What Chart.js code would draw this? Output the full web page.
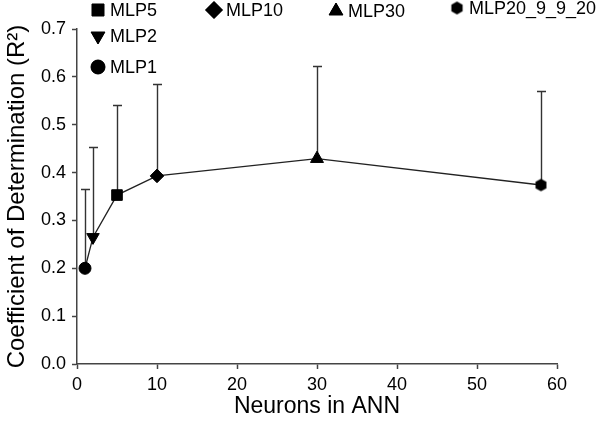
<!DOCTYPE html>
<html>
<head>
<meta charset="utf-8">
<script src="https://cdn.jsdelivr.net/npm/chart.js@4/dist/chart.umd.min.js"></script>
<style>
  html, body { margin: 0; padding: 0; background: #fff; }
</style>
</head>
<body>
<canvas id="r2Chart" width="600" height="421"></canvas>
<script>
// values
const modelNames = ['MLP1', 'MLP2', 'MLP5', 'MLP10', 'MLP30', 'MLP20_9_9_20'];
const neurons = [1, 2, 5, 10, 30, 58];
const r2Mean = [0.200, 0.265, 0.353, 0.393, 0.429, 0.374];
const r2Sd = [0.166, 0.188, 0.188, 0.192, 0.193, 0.196];
const xTicks = [0, 10, 20, 30, 40, 50, 60];
const yTicks = [0.0, 0.1, 0.2, 0.3, 0.4, 0.5, 0.6, 0.7];

const FONT = '"Liberation Sans", Arial, sans-serif';

// hexagon marker, Chart.js has no built-in one
function makeHexagon(r) {
    const c = document.createElement('canvas');
    c.width = c.height = Math.ceil(r * 2) + 2;
    const g = c.getContext('2d');
    const cx = c.width / 2, cy = c.height / 2;
    g.beginPath();
    for (let i = 0; i < 6; i++) {
        const a = Math.PI / 6 + i * Math.PI / 3;
        g.lineTo(cx + Math.cos(a) * r, cy + Math.sin(a) * r);
    }
    g.closePath();
    g.fillStyle = '#000';
    g.fill();
    return c;
}
const hexSmall = makeHexagon(6.3);
const hexBig = makeHexagon(6.5);

// marker per model: style, radius, rotation
const markers = {
    'MLP1': { pointStyle: 'circle', radius: 6, rotation: 0 },
    'MLP2': { pointStyle: 'triangle', radius: 7.2, rotation: 180 },
    'MLP5': { pointStyle: 'rect', radius: 7.5, rotation: 0 },
    'MLP10': { pointStyle: 'rectRot', radius: 6.8, rotation: 0 },
    'MLP30': { pointStyle: 'triangle', radius: 7.5, rotation: 0 },
    'MLP20_9_9_20': { pointStyle: hexSmall, radius: 6, rotation: 0 }
};

function drawMarker(ctx, style, radius, rotation, x, y) {
    ctx.save();
    ctx.fillStyle = '#000';
    ctx.strokeStyle = '#000';
    ctx.lineWidth = 1;
    Chart.helpers.drawPoint(ctx, { pointStyle: style, radius: radius, rotation: rotation, borderWidth: 1 }, x, y);
    ctx.fill();
    ctx.restore();
}

const errorBars = {
    id: 'errorBars',
    beforeDatasetsDraw(chart) {
        const ctx = chart.ctx;
        const xs = chart.scales.x, ys = chart.scales.y;
        ctx.save();
        ctx.strokeStyle = '#333';
        ctx.lineWidth = 1.4;
        neurons.forEach((n, i) => {
            const px = Math.round(xs.getPixelForValue(n)) + 0.5;
            const y0 = ys.getPixelForValue(r2Mean[i]);
            const y1 = Math.round(ys.getPixelForValue(r2Mean[i] + r2Sd[i])) + 0.5;
            ctx.beginPath();
            ctx.moveTo(px, y0);
            ctx.lineTo(px, y1);
            ctx.moveTo(px - 4.5, y1);
            ctx.lineTo(px + 4.5, y1);
            ctx.stroke();
        });
        ctx.restore();
    }
};

// legend laid out by hand, the way the figure has it
const legendSpots = [
    { name: 'MLP5', x: 98, y: 10, r: 8.5 },
    { name: 'MLP10', x: 214, y: 10, r: 8.5 },
    { name: 'MLP30', x: 336, y: 11, r: 8 },
    { name: 'MLP20_9_9_20', x: 457, y: 8, r: 6.5 },
    { name: 'MLP2', x: 98, y: 36, r: 8 },
    { name: 'MLP1', x: 98, y: 67, r: 7 }
];
const hashLegend = {
    id: 'hashLegend',
    afterDraw(chart) {
        const ctx = chart.ctx;
        ctx.save();
        legendSpots.forEach(s => {
            const m = markers[s.name];
            const style = m.pointStyle === hexSmall ? hexBig : m.pointStyle;
            drawMarker(ctx, style, s.r, m.rotation, s.x, s.y);
            ctx.fillStyle = '#000';
            ctx.font = '18px ' + FONT;
            ctx.textAlign = 'left';
            ctx.textBaseline = 'middle';
            ctx.fillText(s.name, s.x + 12, s.y + 1);
        });
        ctx.restore();
    }
};

const ctx = document.getElementById('r2Chart').getContext('2d');
new Chart(ctx, {
    type: 'line',
    data: {
        datasets: [{
            data: neurons.map((n, i) => ({ x: n, y: r2Mean[i] })),
            borderColor: '#222',
            borderWidth: 1.3,
            backgroundColor: '#000',
            pointBackgroundColor: '#000',
            pointBorderColor: '#000',
            pointBorderWidth: 1,
            pointStyle: modelNames.map(n => markers[n].pointStyle),
            pointRadius: modelNames.map(n => markers[n].radius),
            pointRotation: modelNames.map(n => markers[n].rotation),
            tension: 0,
            fill: false
        }]
    },
    options: {
        responsive: false,
        animation: false,
        devicePixelRatio: 1,
        layout: { padding: { left: 0, right: 43, top: 29, bottom: 0 } },
        plugins: {
            legend: { display: false },
            tooltip: { enabled: false }
        },
        scales: {
            x: {
                type: 'linear',
                min: 0,
                max: 60,
                afterFit: s => { s.height = 57; },
                afterBuildTicks: s => { s.ticks = xTicks.map(v => ({ value: v })); },
                grid: { drawOnChartArea: false, drawTicks: true, tickLength: 5, tickColor: '#444', tickWidth: 1.5 },
                border: { display: true, color: '#444', width: 1.5 },
                ticks: { color: '#000', padding: 5, font: { family: FONT, size: 18 }, maxRotation: 0 },
                title: {
                    display: true,
                    text: 'Neurons in ANN',
                    color: '#000',
                    font: { family: FONT, size: 23, lineHeight: 1.2 },
                    padding: { top: 0, bottom: 1 }
                }
            },
            y: {
                type: 'linear',
                min: 0,
                max: 0.7,
                afterFit: s => { s.width = 77; },
                afterBuildTicks: s => { s.ticks = yTicks.map(v => ({ value: v })); },
                grid: { drawOnChartArea: false, drawTicks: true, tickLength: 5, tickColor: '#444', tickWidth: 1.5 },
                border: { display: true, color: '#444', width: 1.5 },
                ticks: { color: '#000', padding: 6, font: { family: FONT, size: 18 }, callback: v => v.toFixed(1) },
                title: {
                    display: true,
                    text: 'Coefficient of Determination (R²)',
                    color: '#000',
                    font: { family: FONT, size: 24, lineHeight: 1.2 },
                    padding: { top: 3, bottom: 0 }
                }
            }
        }
    },
    plugins: [errorBars, hashLegend]
});
</script>
</body>
</html>
